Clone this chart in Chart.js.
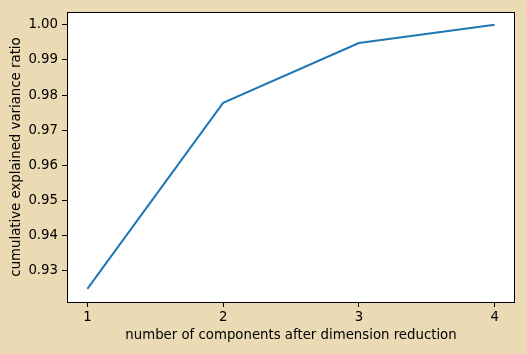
<!DOCTYPE html>
<html>
<head>
<meta charset="utf-8">
<script src="https://cdn.jsdelivr.net/npm/chart.js@4"></script>
<style>
  html, body { margin: 0; padding: 0; background: #EADBB4; }
  #wrap { width: 526px; height: 354px; position: relative; }
</style>
</head>
<body>
<div id="wrap"><canvas id="chart"></canvas></div>
<script>
// values
const components = [1, 2, 3, 4];
const cumulativeRatio = [0.9249, 0.9778, 0.9948, 1.0];
const xTicks = [1, 2, 3, 4];
const yTicks = [0.93, 0.94, 0.95, 0.96, 0.97, 0.98, 0.99, 1.00];

const points = components.map((c, i) => ({ x: c, y: cumulativeRatio[i] }));
const FONT = 'DejaVu Sans';
const SIZE = 13.3;

// white plot area + black frame, like matplotlib
const frame = {
  id: 'frame',
  beforeDraw(chart) {
    const { ctx, chartArea: a } = chart;
    ctx.save();
    ctx.fillStyle = '#EADBB4';
    ctx.fillRect(0, 0, chart.width, chart.height);
    ctx.fillStyle = '#ffffff';
    ctx.fillRect(a.left, a.top, a.right - a.left, a.bottom - a.top);
    ctx.restore();
  },
  afterDraw(chart) {
    const { ctx, chartArea: a } = chart;
    ctx.save();
    ctx.strokeStyle = '#000000';
    ctx.lineWidth = 1;
    ctx.strokeRect(a.left + 0.5, a.top + 0.5, a.right - a.left - 1, a.bottom - a.top);
    ctx.restore();
  }
};

new Chart(document.getElementById('chart'), {
  type: 'scatter',
  data: {
    datasets: [{
      data: points,
      showLine: true,
      borderColor: '#1f77b4',
      borderWidth: 2,
      pointRadius: 0,
      fill: false,
      tension: 0
    }]
  },
  options: {
    responsive: true,
    maintainAspectRatio: false,
    animation: false,
    devicePixelRatio: 1,
    layout: { padding: { top: 12, right: 11, left: 0, bottom: 0 } },
    plugins: { legend: { display: false }, tooltip: { enabled: false } },
    scales: {
      x: {
        type: 'linear',
        min: 0.85,
        max: 4.15,
        afterBuildTicks: (s) => { s.ticks = xTicks.map(v => ({ value: v })); },
        afterFit: (s) => { s.height = 52; },
        grid: { drawOnChartArea: false, drawTicks: true, tickLength: 5, color: '#000', tickColor: '#000' },
        border: { display: false },
        ticks: { color: '#000', padding: 3, font: { family: FONT, size: SIZE }, maxRotation: 0 },
        title: {
          display: true,
          text: 'number of components after dimension reduction',
          color: '#000',
          font: { family: FONT, size: SIZE },
          padding: { top: 0, bottom: 10 }
        }
      },
      y: {
        type: 'linear',
        min: 0.92118,
        max: 1.00364,
        afterBuildTicks: (s) => { s.ticks = yTicks.map(v => ({ value: v })); },
        afterFit: (s) => { s.width = 67; },
        grid: { drawOnChartArea: false, drawTicks: true, tickLength: 5, color: '#000', tickColor: '#000' },
        border: { display: false },
        ticks: {
          color: '#000',
          padding: 4,
          font: { family: FONT, size: SIZE },
          callback: (v) => v.toFixed(2)
        },
        title: {
          display: true,
          text: 'cumulative explained variance ratio',
          color: '#000',
          font: { family: FONT, size: SIZE },
          padding: { top: 9, bottom: 0 }
        }
      }
    }
  },
  plugins: [frame]
});
</script>
</body>
</html>
